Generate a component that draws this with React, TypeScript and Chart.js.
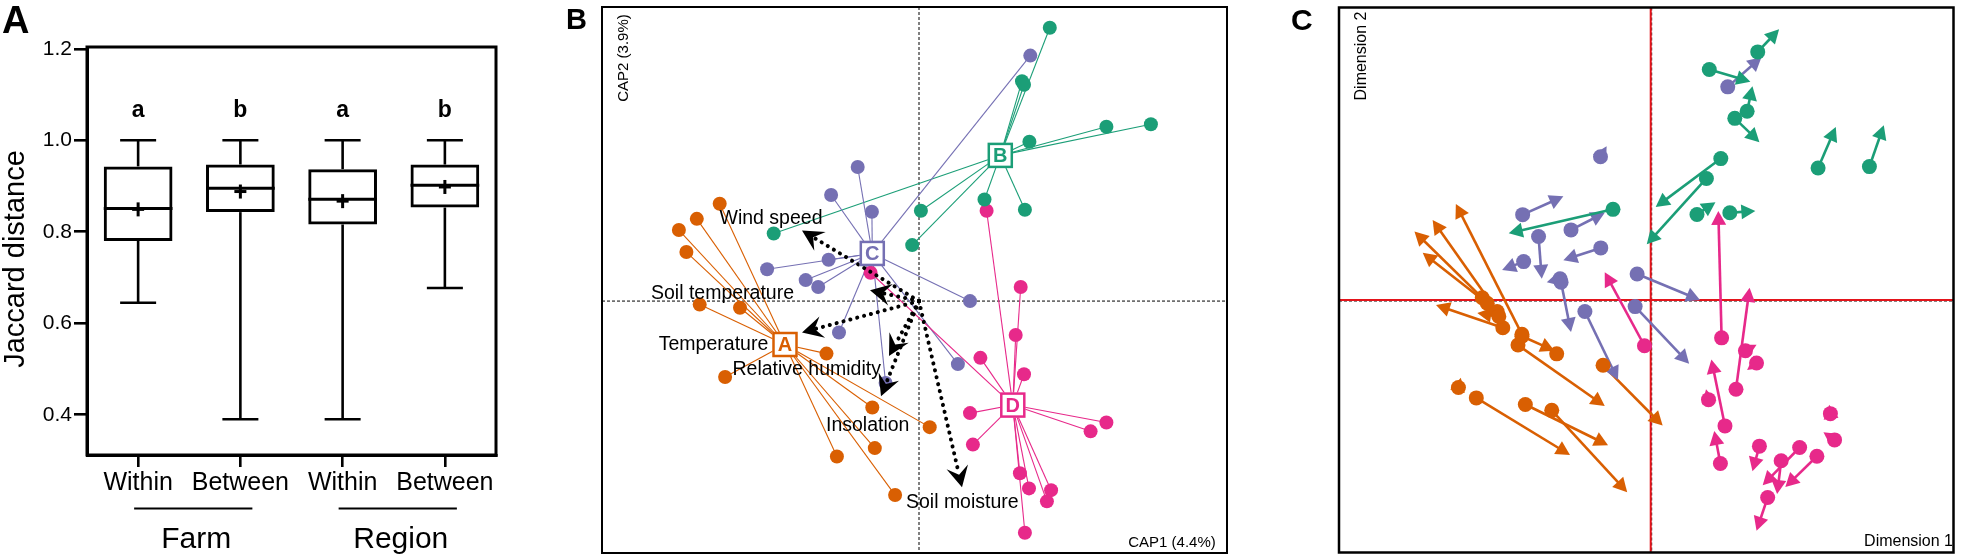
import React, { useEffect, useRef } from 'react';
import { Chart, registerables } from 'chart.js';

Chart.register(...registerables);

const FONT = '"Liberation Sans", Arial, Helvetica, sans-serif';
Chart.defaults.font.family = FONT;
Chart.defaults.color = '#000';

const ORANGE = '#d95f02';
const GREEN = '#1b9e77';
const PURPLE = '#7570b3';
const PINK = '#e7298a';

// ---------------- Panel A: Jaccard distance box plots ----------------
const boxCategories = ['Within', 'Between', 'Within', 'Between'];
const boxGroupNames = ['Farm', 'Region'];
const boxMin = [0.645, 0.39, 0.39, 0.677];
const boxQ1 = [0.78, 0.843, 0.816, 0.853];
const boxMedian = [0.851, 0.895, 0.871, 0.902];
const boxQ3 = [0.943, 0.947, 0.937, 0.947];
const boxMax = [1.0, 1.0, 1.0, 1.0];
const boxMean = [0.849, 0.888, 0.867, 0.898];
const sigLetters = ['a', 'b', 'a', 'b'];
const sigLetterValue = 1.05;
const yTicksA = [0.4, 0.6, 0.8, 1.0, 1.2];

// ---------------- Panel B: CAP ordination ----------------
const capGroupNames = ['A', 'B', 'C', 'D'];
const capAx = [-1.993, -2.222, -2.401, -2.326, -2.193, -1.79, -0.925, -1.939, -0.467, 0.107, -0.442, -0.821, -0.239];
const capAy = [0.993, 0.839, 0.725, 0.5, -0.036, -0.068, -0.536, -0.775, -1.086, -1.286, -1.5, -1.586, -1.979];
const capBx = [1.308, 1.03, 1.05, 1.874, 2.319, 1.104, 0.655, 1.059, 0.019, -0.068, -1.453];
const capBy = [2.789, 2.243, 2.207, 1.779, 1.804, 1.625, 1.036, 0.932, 0.921, 0.571, 0.689];
const capCx = [1.113, -0.613, -0.879, -0.471, -0.904, -1.519, -1.133, -1.008, 0.51, -0.8, 0.389, -0.334];
const capCy = [2.504, 1.368, 1.082, 0.911, 0.421, 0.325, 0.214, 0.143, 0.0, -0.321, -0.643, -0.836];
const capDx = [0.676, -0.484, 1.017, 0.967, 0.614, 1.05, 0.51, 1.874, 1.716, 0.539, 1.009, 1.1, 1.321, 1.279, 1.059];
const capDy = [0.921, 0.289, 0.143, -0.346, -0.579, -0.746, -1.143, -1.239, -1.329, -1.464, -1.757, -1.911, -1.929, -2.043, -2.364];
const centroidX = [-1.34, 0.813, -0.467, 0.938];
const centroidY = [-0.443, 1.486, 0.486, -1.061];
const envNames = ['Wind speed', 'Soil temperature', 'Temperature', 'Relative humidity', 'Insolation', 'Soil moisture'];
const envX = [-1.17, -0.49, -1.17, -0.3, -0.38, 0.43];
const envY = [0.72, 0.11, -0.32, -0.56, -0.97, -1.9];
const envLabelX = [-1.48, -1.965, -2.055, -1.123, -0.513, 0.433];
const envLabelY = [0.845, 0.08, -0.44, -0.7, -1.275, -2.06];
const capXRange = [-3.17, 3.08];
const capYRange = [-2.57, 3.0];

// ---------------- Panel C: Procrustes ----------------
const pcOx = [-1.697, -1.647, -1.547, -1.297, -1.49, -1.53, -1.337, -1.297, -0.947, -0.48, -1.757, -1.263, -0.997, -1.937];
const pcOy = [0.023, -0.033, -0.117, -0.35, -0.283, -0.167, -0.46, -0.37, -0.55, -0.667, -1.0, -1.067, -1.127, -0.893];
const pcOtx = [-2.38, -2.297, -2.197, -1.963, -2.163, -1.747, -0.463, -0.97, -0.947, 0.12, -0.813, -0.43, -0.237, -1.913];
const pcOty = [0.7, 0.483, 0.817, 0.983, -0.05, -0.133, -1.083, -0.517, -0.55, -1.283, -1.583, -1.483, -1.964, -0.793];
const pcPx = [-1.29, -1.13, -0.803, -0.503, -1.28, -0.913, -0.903, -0.137, -0.663, -0.157, 0.776, -0.506];
const pcPy = [0.873, 0.65, 0.717, 0.533, 0.393, 0.217, 0.183, 0.267, -0.117, -0.067, 2.179, 1.464];
const pcPtx = [-0.88, -1.097, -0.463, -0.88, -1.497, -1.047, -0.803, 0.497, -0.33, 0.387, 1.116, -0.444];
const pcPty = [1.06, 0.217, 0.893, 0.407, 0.307, 0.183, -0.327, 0.0, -0.817, -0.65, 2.482, 1.571];
const pcGx = [-0.38, 0.706, 0.561, 0.466, 0.797, 1.078, 0.59, 0.971, 0.847, 1.686, 2.203];
const pcGy = [0.927, 1.446, 1.243, 0.875, 0.893, 2.536, 2.357, 1.929, 1.857, 1.35, 1.364];
const pcGtx = [-1.43, 0.05, -0.04, 0.652, 1.054, 1.293, 1.004, 1.025, 1.095, 1.864, 2.348];
const pcGty = [0.683, 0.95, 0.57, 1.0, 0.911, 2.768, 2.232, 2.186, 1.614, 1.768, 1.786];
const pcKx = [-0.063, 0.714, 0.859, 0.954, 1.066, 0.748, 0.582, 0.702, 1.81, 1.852, 1.095, 1.5, 1.314, 1.674, 1.178];
const pcKy = [-0.467, -0.386, -0.911, -0.518, -0.643, -1.286, -1.018, -1.671, -1.161, -1.429, -1.493, -1.507, -1.643, -1.596, -2.018];
const pcKtx = [-0.463, 0.681, 0.996, 1.066, 0.971, 0.611, 0.557, 0.64, 1.798, 1.74, 1.025, 1.128, 1.273, 1.356, 1.066];
const pcKty = [0.283, 0.911, 0.125, -0.457, -0.714, -0.607, -0.911, -1.339, -1.071, -1.35, -1.75, -1.893, -1.982, -1.911, -2.357];
const pcXRange = [-3.14, 3.05];
const pcYRange = [-2.58, 2.99];

// ---------------- helpers ----------------
function seg(ctx: CanvasRenderingContext2D, x1: number, y1: number, x2: number, y2: number) {
  ctx.beginPath();
  ctx.moveTo(x1, y1);
  ctx.lineTo(x2, y2);
  ctx.stroke();
}

function rotatedText(ctx: CanvasRenderingContext2D, text: string, x: number, y: number, font: string) {
  ctx.save();
  ctx.translate(x, y);
  ctx.rotate(-Math.PI / 2);
  ctx.font = font;
  ctx.textAlign = 'center';
  ctx.textBaseline = 'alphabetic';
  ctx.fillStyle = '#000';
  ctx.fillText(text, 0, 0);
  ctx.restore();
}

// ---------------- Panel A plugin ----------------
const boxPlugin = {
  id: 'boxExtras',
  afterDatasetsDraw(chart: any) {
    const { ctx, chartArea: ca, scales } = chart;
    const xs = scales.x;
    const ys = scales.y;
    const meta = chart.getDatasetMeta(0);
    ctx.save();
    ctx.strokeStyle = '#000';
    ctx.fillStyle = '#000';
    ctx.lineCap = 'butt';
    ctx.lineWidth = 3;
    ctx.strokeRect(ca.left, ca.top, ca.right - ca.left, ca.bottom - ca.top);
    boxCategories.forEach((_, i) => {
      const bar = meta.data[i];
      const cx = xs.getPixelForValue(i);
      const half = bar.width / 2;
      const pMax = ys.getPixelForValue(boxMax[i]);
      const pMin = ys.getPixelForValue(boxMin[i]);
      const pQ1 = ys.getPixelForValue(boxQ1[i]);
      const pQ3 = ys.getPixelForValue(boxQ3[i]);
      const pMed = ys.getPixelForValue(boxMedian[i]);
      const pMean = ys.getPixelForValue(boxMean[i]);
      ctx.lineWidth = 2.6;
      seg(ctx, cx, pQ3, cx, pMax);
      seg(ctx, cx - 18, pMax, cx + 18, pMax);
      seg(ctx, cx, pQ1, cx, pMin);
      seg(ctx, cx - 18, pMin, cx + 18, pMin);
      ctx.lineWidth = 3;
      seg(ctx, cx - half, pMed, cx + half, pMed);
      seg(ctx, cx - 6, pMean, cx + 6, pMean);
      seg(ctx, cx, pMean - 7, cx, pMean + 7);
      ctx.font = `bold 23px ${FONT}`;
      ctx.textAlign = 'center';
      ctx.textBaseline = 'alphabetic';
      ctx.fillText(sigLetters[i], cx, ys.getPixelForValue(sigLetterValue));
    });
    ctx.restore();
  },
  afterDraw(chart: any) {
    const { ctx, scales } = chart;
    const xs = scales.x;
    ctx.save();
    ctx.strokeStyle = '#000';
    ctx.fillStyle = '#000';
    ctx.lineWidth = 2;
    boxGroupNames.forEach((name, g) => {
      const a = xs.getPixelForValue(g * 2);
      const b = xs.getPixelForValue(g * 2 + 1);
      const mid = (a + b) / 2;
      seg(ctx, a - 4, 508.5, b + 12, 508.5);
      ctx.font = `30px ${FONT}`;
      ctx.textAlign = 'center';
      ctx.textBaseline = 'alphabetic';
      ctx.fillText(name, mid + 7, 548);
    });
    ctx.font = `bold 38px ${FONT}`;
    ctx.textAlign = 'left';
    ctx.textBaseline = 'alphabetic';
    ctx.fillText('A', 2, 33);
    ctx.restore();
    rotatedText(ctx, 'Jaccard distance', 24, 259, `29px ${FONT}`);
  },
};

// ---------------- Panel B plugin ----------------
const capGroups = [
  { xs: capAx, ys: capAy, color: ORANGE },
  { xs: capBx, ys: capBy, color: GREEN },
  { xs: capCx, ys: capCy, color: PURPLE },
  { xs: capDx, ys: capDy, color: PINK },
];

const capPlugin = {
  id: 'capExtras',
  beforeDatasetsDraw(chart: any) {
    const { ctx, chartArea: ca, scales } = chart;
    const X = (v: number) => scales.x.getPixelForValue(v);
    const Y = (v: number) => scales.y.getPixelForValue(v);
    ctx.save();
    ctx.strokeStyle = '#000';
    ctx.lineWidth = 1;
    ctx.setLineDash([3, 2]);
    seg(ctx, ca.left, Y(0), ca.right, Y(0));
    seg(ctx, X(0), ca.top, X(0), ca.bottom);
    ctx.setLineDash([]);
    ctx.lineWidth = 1.1;
    capGroups.forEach((g, gi) => {
      ctx.strokeStyle = g.color;
      g.xs.forEach((vx, i) => seg(ctx, X(centroidX[gi]), Y(centroidY[gi]), X(vx), Y(g.ys[i])));
    });
    ctx.restore();
  },
  afterDatasetsDraw(chart: any) {
    const { ctx, scales } = chart;
    const X = (v: number) => scales.x.getPixelForValue(v);
    const Y = (v: number) => scales.y.getPixelForValue(v);
    ctx.save();
    ctx.strokeStyle = '#000';
    ctx.fillStyle = '#000';
    const x0 = X(0);
    const y0 = Y(0);
    envNames.forEach((_, i) => {
      const x1 = X(envX[i]);
      const y1 = Y(envY[i]);
      const L = Math.hypot(x1 - x0, y1 - y0);
      const ux = (x1 - x0) / L;
      const uy = (y1 - y0) / L;
      ctx.lineWidth = 4;
      ctx.lineCap = 'round';
      ctx.setLineDash([0.1, 7]);
      seg(ctx, x0, y0, x1 - ux * 14, y1 - uy * 14);
      ctx.setLineDash([]);
      const px = -uy;
      const py = ux;
      ctx.beginPath();
      ctx.moveTo(x1, y1);
      ctx.lineTo(x1 - ux * 21 + px * 11, y1 - uy * 21 + py * 11);
      ctx.lineTo(x1 - ux * 13, y1 - uy * 13);
      ctx.lineTo(x1 - ux * 21 - px * 11, y1 - uy * 21 - py * 11);
      ctx.closePath();
      ctx.fill();
    });
    ctx.font = `19.5px ${FONT}`;
    ctx.textAlign = 'center';
    ctx.textBaseline = 'middle';
    envNames.forEach((n, i) => ctx.fillText(n, X(envLabelX[i]), Y(envLabelY[i])));
    capGroupNames.forEach((n, gi) => {
      const cx = X(centroidX[gi]);
      const cy = Y(centroidY[gi]);
      const color = capGroups[gi].color;
      ctx.fillStyle = '#fff';
      ctx.fillRect(cx - 12.5, cy - 12.5, 25, 25);
      ctx.strokeStyle = color;
      ctx.lineWidth = 2.5;
      ctx.strokeRect(cx - 11.5, cy - 11.5, 23, 23);
      ctx.fillStyle = color;
      ctx.font = `bold 20px ${FONT}`;
      ctx.textAlign = 'center';
      ctx.textBaseline = 'middle';
      ctx.fillText(n, cx, cy + 1);
    });
    ctx.restore();
  },
  afterDraw(chart: any) {
    const { ctx, chartArea: ca } = chart;
    ctx.save();
    ctx.strokeStyle = '#000';
    ctx.lineWidth = 2;
    ctx.strokeRect(ca.left, ca.top, ca.right - ca.left, ca.bottom - ca.top);
    ctx.fillStyle = '#000';
    ctx.font = `bold 29px ${FONT}`;
    ctx.textAlign = 'left';
    ctx.textBaseline = 'alphabetic';
    ctx.fillText('B', 26, 28.5);
    ctx.font = `15px ${FONT}`;
    ctx.textAlign = 'center';
    ctx.fillText('CAP1 (4.4%)', 632, 547);
    ctx.restore();
    rotatedText(ctx, 'CAP2 (3.9%)', 88, 58, `15px ${FONT}`);
  },
};

// ---------------- Panel C plugin ----------------
const pcGroups = [
  { x: pcOx, y: pcOy, tx: pcOtx, ty: pcOty, color: ORANGE },
  { x: pcPx, y: pcPy, tx: pcPtx, ty: pcPty, color: PURPLE },
  { x: pcGx, y: pcGy, tx: pcGtx, ty: pcGty, color: GREEN },
  { x: pcKx, y: pcKy, tx: pcKtx, ty: pcKty, color: PINK },
];

const procPlugin = {
  id: 'procExtras',
  beforeDatasetsDraw(chart: any) {
    const { ctx, chartArea: ca, scales } = chart;
    const X = (v: number) => scales.x.getPixelForValue(v);
    const Y = (v: number) => scales.y.getPixelForValue(v);
    ctx.save();
    const x0 = X(0);
    const y0 = Y(0);
    ctx.strokeStyle = '#222';
    ctx.lineWidth = 1;
    ctx.setLineDash([3, 2]);
    seg(ctx, ca.left, y0 + 1, ca.right, y0 + 1);
    seg(ctx, x0 + 1, ca.top, x0 + 1, ca.bottom);
    ctx.setLineDash([]);
    ctx.strokeStyle = '#e4141b';
    ctx.lineWidth = 2;
    seg(ctx, ca.left, y0, ca.right, y0);
    seg(ctx, x0, ca.top, x0, ca.bottom);
    pcGroups.forEach((g) => {
      ctx.strokeStyle = g.color;
      ctx.fillStyle = g.color;
      g.x.forEach((vx, i) => {
        const sx = X(vx);
        const sy = Y(g.y[i]);
        const ex = X(g.tx[i]);
        const ey = Y(g.ty[i]);
        const L = Math.hypot(ex - sx, ey - sy);
        if (L < 2) return;
        const ux = (ex - sx) / L;
        const uy = (ey - sy) / L;
        ctx.lineWidth = 2.6;
        if (L > 12) seg(ctx, sx, sy, ex - ux * 10, ey - uy * 10);
        const px = -uy;
        const py = ux;
        ctx.beginPath();
        ctx.moveTo(ex, ey);
        ctx.lineTo(ex - ux * 14 + px * 7.5, ey - uy * 14 + py * 7.5);
        ctx.lineTo(ex - ux * 14 - px * 7.5, ey - uy * 14 - py * 7.5);
        ctx.closePath();
        ctx.fill();
      });
    });
    ctx.restore();
  },
  afterDraw(chart: any) {
    const { ctx, chartArea: ca } = chart;
    ctx.save();
    ctx.strokeStyle = '#000';
    ctx.lineWidth = 2.5;
    ctx.strokeRect(ca.left, ca.top, ca.right - ca.left, ca.bottom - ca.top);
    ctx.fillStyle = '#000';
    ctx.font = `bold 30px ${FONT}`;
    ctx.textAlign = 'left';
    ctx.textBaseline = 'alphabetic';
    ctx.fillText('C', 11, 29.5);
    ctx.font = `16px ${FONT}`;
    ctx.textAlign = 'right';
    ctx.fillText('Dimension 1', 673, 546);
    ctx.restore();
    rotatedText(ctx, 'Dimension 2', 86, 56, `16px ${FONT}`);
  },
};

// ---------------- components ----------------
function PanelA() {
  const ref = useRef<HTMLCanvasElement>(null);
  useEffect(() => {
    const chart = new Chart(ref.current as HTMLCanvasElement, {
      type: 'bar',
      data: {
        labels: boxCategories,
        datasets: [
          {
            data: boxQ1.map((q, i) => [q, boxQ3[i]]) as any,
            backgroundColor: 'rgba(0,0,0,0)',
            borderColor: '#000',
            borderWidth: 3,
            borderSkipped: false,
            barPercentage: 0.672,
            categoryPercentage: 1,
          },
        ],
      },
      options: {
        responsive: false,
        animation: false,
        events: [],
        layout: { padding: { top: 47, right: 44, left: 0, bottom: 0 } },
        plugins: { legend: { display: false }, tooltip: { enabled: false } },
        scales: {
          x: {
            offset: true,
            grid: { display: true, drawOnChartArea: false, drawTicks: true, tickLength: 12, color: '#000', lineWidth: 2.6, offset: false },
            border: { display: true, color: '#000', width: 3 },
            ticks: { font: { size: 25 }, color: '#000', padding: 1, maxRotation: 0, autoSkip: false },
            afterFit: (s: any) => {
              s.height = 105;
            },
          },
          y: {
            min: 0.312,
            max: 1.204,
            grid: { display: true, drawOnChartArea: false, drawTicks: true, tickLength: 13, color: '#000', lineWidth: 2.6 },
            border: { display: true, color: '#000', width: 3 },
            ticks: { font: { size: 21 }, color: '#000', padding: 2, callback: (v: any) => Number(v).toFixed(1) },
            afterBuildTicks: (s: any) => {
              s.ticks = yTicksA.map((v) => ({ value: v }));
            },
            afterFit: (s: any) => {
              s.width = 87;
            },
          },
        },
      },
      plugins: [boxPlugin],
    } as any);
    return () => chart.destroy();
  }, []);
  return <canvas ref={ref} width={540} height={560} style={{ position: 'absolute', left: 0, top: 0, width: 540, height: 560 }} />;
}

function PanelB() {
  const ref = useRef<HTMLCanvasElement>(null);
  useEffect(() => {
    const chart = new Chart(ref.current as HTMLCanvasElement, {
      type: 'scatter',
      data: {
        datasets: capGroups.map((g) => ({
          data: g.xs.map((x, i) => ({ x, y: g.ys[i] })),
          backgroundColor: g.color,
          borderWidth: 0,
          pointRadius: 7,
          pointHoverRadius: 7,
        })),
      },
      options: {
        responsive: false,
        animation: false,
        events: [],
        layout: { padding: { top: 1, right: 53, left: 62, bottom: 2 } },
        plugins: { legend: { display: false }, tooltip: { enabled: false } },
        scales: {
          x: { type: 'linear', min: capXRange[0], max: capXRange[1], display: false },
          y: { type: 'linear', min: capYRange[0], max: capYRange[1], display: false },
        },
      },
      plugins: [capPlugin],
    } as any);
    return () => chart.destroy();
  }, []);
  return <canvas ref={ref} width={740} height={560} style={{ position: 'absolute', left: 540, top: 0, width: 740, height: 560 }} />;
}

function PanelC() {
  const ref = useRef<HTMLCanvasElement>(null);
  useEffect(() => {
    const chart = new Chart(ref.current as HTMLCanvasElement, {
      type: 'scatter',
      data: {
        datasets: pcGroups.map((g) => ({
          data: g.x.map((x, i) => ({ x, y: g.y[i] })),
          backgroundColor: g.color,
          borderWidth: 0,
          pointRadius: 7.5,
          pointHoverRadius: 7.5,
        })),
      },
      options: {
        responsive: false,
        animation: false,
        events: [],
        layout: { padding: { top: 1, right: 3, left: 59, bottom: 2 } },
        plugins: { legend: { display: false }, tooltip: { enabled: false } },
        scales: {
          x: { type: 'linear', min: pcXRange[0], max: pcXRange[1], display: false },
          y: { type: 'linear', min: pcYRange[0], max: pcYRange[1], display: false },
        },
      },
      plugins: [procPlugin],
    } as any);
    return () => chart.destroy();
  }, []);
  return <canvas ref={ref} width={681} height={560} style={{ position: 'absolute', left: 1280, top: 0, width: 681, height: 560 }} />;
}

export default function App() {
  return (
    <div style={{ position: 'fixed', left: 0, top: 0, width: 1961, height: 560, background: '#fff', overflow: 'hidden' }}>
      <PanelA />
      <PanelB />
      <PanelC />
    </div>
  );
}
